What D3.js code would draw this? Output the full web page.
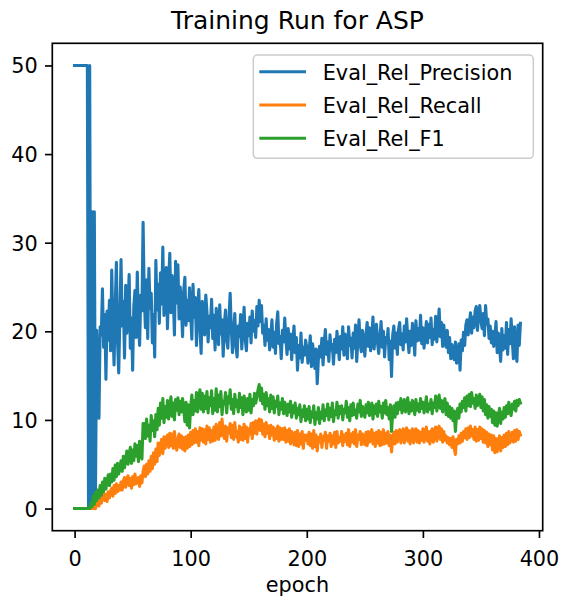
<!DOCTYPE html>
<html>
<head>
<meta charset="utf-8">
<script src="https://cdn.jsdelivr.net/npm/d3@7"></script>
<style>
  body { margin: 0; background: #fff; }
  svg { display: block; font-family: "DejaVu Sans", sans-serif; }
</style>
</head>
<body>
<svg id="chart" width="562" height="601"></svg>
<script>
var title = "Training Run for ASP";
var xLabel = "epoch";
var seriesNames = ["Eval_Rel_Precision", "Eval_Rel_Recall", "Eval_Rel_F1"];
var seriesColors = ["#1f77b4", "#ff7f0e", "#2ca02c"];
var xTicks = [0, 100, 200, 300, 400];
var yTicks = [0, 10, 20, 30, 40, 50];

// one value per epoch
var precision = [
  50,50,50,50,50,50,50,50,50,50,
  50,50,0,50,0,33.5,0,33.5,2.1,20.1,
  16.4,10.2,20.5,19.6,24.8,18.2,21.9,14.6,22.3,19.0,
  23.5,17.8,26.9,20.4,16.2,22.7,27.8,18.9,15.3,21.6,
  28.1,20.6,23.4,17.0,25.2,19.8,22.9,26.4,18.1,21.5,
  15.6,22.8,24.6,19.3,26.7,21.0,18.4,24.1,22.3,32.3,
  23.9,20.4,25.8,19.2,27.1,22.6,24.3,18.7,21.9,17.1,
  28.0,22.4,25.3,20.9,26.6,23.1,29.5,21.8,24.7,27.2,
  20.3,25.6,28.8,22.1,26.3,24.0,19.6,27.9,23.2,27.5,
  21.4,25.0,22.8,19.4,24.6,26.1,20.7,23.5,21.2,24.9,
  22.0,19.1,25.3,21.6,23.8,18.4,22.5,24.7,20.3,17.5,
  23.4,21.0,19.6,24.1,22.2,18.8,21.7,20.4,23.6,19.2,
  21.8,17.9,22.6,20.1,18.5,23.0,19.7,21.3,17.2,20.8,
  22.4,19.0,18.1,21.5,24.3,20.2,17.6,19.9,22.0,18.3,
  17.1,20.6,19.4,21.9,18.0,20.3,22.7,19.1,17.8,20.9,
  19.5,21.6,18.7,22.3,20.0,21.2,19.3,22.8,20.6,23.5,
  21.1,22.9,19.8,20.7,18.4,21.4,19.0,20.2,17.9,19.6,
  21.3,18.2,19.9,17.5,20.8,22.2,18.6,19.4,16.9,20.1,
  18.8,21.5,19.2,17.4,20.3,18.0,19.7,16.8,18.9,20.6,
  17.6,19.3,15.6,18.4,17.0,19.8,16.5,18.2,17.3,19.0,
  18.1,16.4,17.7,19.5,16.0,18.6,17.2,15.8,18.0,14.1,
  16.9,18.3,17.1,19.2,16.2,18.7,20.2,17.4,18.8,16.6,
  19.6,17.9,18.5,16.3,19.1,17.6,20.0,18.2,16.8,19.4,
  18.0,20.5,17.3,19.7,18.6,16.9,20.5,18.4,19.2,17.0,
  19.8,18.1,20.7,16.6,19.0,21.3,18.5,17.7,20.1,18.9,
  17.2,19.6,21.0,18.3,20.4,17.8,19.1,21.6,18.0,19.9,
  20.8,18.6,17.5,19.4,21.1,18.2,20.0,17.1,19.3,18.7,
  20.3,16.8,18.9,14.9,19.6,20.6,18.1,19.8,17.4,20.2,
  21.0,18.5,19.7,17.9,20.6,18.8,21.4,19.2,17.6,20.0,
  18.4,20.9,19.5,17.3,21.2,18.9,20.3,19.0,21.8,18.6,
  20.4,18.1,19.6,21.1,18.7,20.8,19.3,21.5,18.5,20.2,
  19.1,21.7,18.8,20.6,22.5,19.4,21.0,18.3,20.7,19.0,
  18.2,20.1,17.6,19.3,16.9,18.5,17.2,16.8,18.8,16.4,
  17.1,18.6,15.6,19.0,17.8,19.9,18.4,20.7,21.3,19.6,
  20.9,22.1,19.8,21.6,20.4,22.3,22.8,20.1,21.7,22.9,
  21.2,20.3,22.0,19.5,22.9,20.8,21.4,19.2,20.6,18.7,
  20.0,18.3,19.4,21.1,17.6,19.8,18.2,16.6,20.3,17.9,
  19.5,18.1,21.0,17.4,20.2,18.6,21.4,19.0,16.9,20.5,
  17.8,16.6,20.7,18.4,20.9
];

var recall = [
  0,0,0,0,0,0,0,0,0,0,
  0,0,0,0,0,0,0,0.3,0,0.5,
  0.9,0.3,1.4,0.6,1.2,1.7,0.9,1.6,0.8,1.9,
  1.2,2.0,2.3,1.4,2.6,1.7,2.8,1.9,2.6,2.1,
  3.0,2.1,3.1,3.5,2.4,3.3,3.7,2.6,3.4,2.3,
  3.6,2.7,3.9,2.8,3.1,3.5,2.5,3.7,2.9,4.2,
  4.8,3.6,5.0,3.9,5.4,4.2,5.9,4.5,6.3,5.0,
  6.7,5.3,7.4,6.0,7.2,7.8,6.2,8.1,6.8,7.9,
  8.3,6.9,8.5,7.1,8.4,6.8,8.7,7.2,6.6,7.9,
  8.4,6.9,8.2,6.7,8.0,6.5,8.1,6.8,8.3,7.0,
  8.6,7.2,8.8,7.4,9.0,7.5,8.7,7.1,9.1,7.7,
  9.0,7.5,8.9,7.3,9.3,7.8,9.1,7.5,8.8,7.6,
  9.2,7.7,9.5,8.0,7.8,9.7,8.2,10.1,8.5,7.9,
  9.3,7.6,9.1,8.5,9.6,8.0,9.4,7.8,9.7,8.1,
  8.7,7.5,9.3,7.8,9.1,7.7,9.5,7.9,9.2,7.5,
  9.0,8.4,9.6,7.9,9.7,8.5,9.9,8.4,9.8,10.1,
  8.8,10.0,8.4,9.5,8.1,9.7,8.5,9.3,7.9,9.4,
  8.3,9.2,7.7,9.0,7.9,9.3,7.6,9.1,7.8,9.0,
  7.8,9.1,7.5,8.8,7.6,9.0,7.3,8.7,8.0,7.2,
  8.6,7.1,8.8,7.0,8.4,7.3,8.7,6.8,8.3,7.7,
  8.3,7.3,8.6,7.1,8.4,6.8,8.8,7.0,8.3,6.5,
  8.0,7.5,8.4,6.9,8.1,7.7,8.6,6.8,8.2,7.6,
  8.5,7.0,8.2,7.3,8.6,6.9,8.7,7.4,8.0,7.6,
  8.7,7.1,8.3,7.6,8.5,7.2,8.9,7.0,8.4,7.5,
  8.6,7.3,8.9,7.0,8.3,7.8,8.7,7.2,8.4,7.9,
  7.2,8.6,7.1,8.7,7.5,8.1,8.9,7.3,8.5,7.0,
  8.6,7.4,8.8,7.1,8.6,7.2,8.9,7.3,8.5,7.4,
  8.7,7.1,8.3,6.4,7.9,8.6,7.3,8.8,7.5,8.6,
  8.9,7.4,8.5,9.0,7.4,8.7,9.1,7.6,8.8,7.3,
  8.6,9.0,7.4,8.7,9.0,7.5,8.8,7.4,8.6,7.7,
  9.0,7.5,8.6,9.2,7.6,8.7,7.3,8.6,9.0,7.5,
  8.7,9.2,7.6,8.9,9.3,7.8,9.0,7.5,8.7,7.7,
  8.2,7.4,8.0,7.2,7.9,6.9,8.1,6.8,6.1,7.8,
  7.3,8.2,7.4,8.5,7.6,8.7,8.0,9.0,7.8,9.1,
  8.0,9.3,8.2,8.9,7.8,9.2,7.6,8.9,7.7,9.2,
  7.9,9.0,7.5,8.8,7.4,8.6,7.0,8.4,7.2,8.3,
  6.6,8.2,6.3,7.9,6.4,7.7,8.2,6.5,8.0,6.9,
  8.3,7.0,8.5,7.2,8.7,7.4,7.9,8.6,7.5,8.8,
  7.6,8.9,7.8,8.7,8.3
];

var f1 = [
  0,0,0,0,0,0,0,0,0,0,
  0,0,0,0,0.6,0.2,1.4,0.5,1.8,0.9,
  2.1,1.2,2.6,1.5,3.0,1.9,3.4,2.2,3.1,3.8,
  2.6,3.9,3.0,4.5,3.2,4.9,3.6,5.1,3.9,4.6,
  5.4,4.2,5.9,4.6,5.5,6.5,5.0,6.1,6.9,5.1,
  6.6,5.4,7.3,5.9,7.1,5.3,7.6,6.1,5.6,9.6,
  9.6,7.9,10.1,8.2,9.4,7.6,10.5,8.8,9.9,8.1,
  10.6,8.9,11.3,9.4,11.9,10.2,12.4,9.7,11.5,10.3,
  12.2,10.1,11.6,12.6,10.4,11.9,10.0,12.3,11.1,12.5,
  10.6,12.1,10.9,12.4,11.2,9.8,12.0,9.4,11.7,9.1,
  11.5,12.8,10.6,12.2,11.0,13.1,10.9,12.6,13.4,11.2,
  13.0,10.9,12.7,11.3,13.2,10.8,12.5,11.6,13.3,10.7,
  12.4,11.1,13.5,10.9,12.8,11.5,13.2,10.6,12.1,11.8,
  13.1,10.8,12.6,11.9,13.4,11.2,12.3,10.7,12.9,11.5,
  12.2,10.9,13.0,11.4,12.5,10.6,12.7,11.8,10.9,12.4,
  11.1,12.9,10.8,12.3,11.6,13.0,11.9,12.6,13.4,14.0,
  12.2,13.6,11.8,12.9,11.2,13.1,11.6,12.4,10.9,12.8,
  11.3,12.6,10.8,12.1,11.5,12.7,10.6,11.9,11.2,12.4,
  10.7,12.0,11.4,10.5,11.8,10.9,12.1,10.3,11.6,10.8,
  11.9,10.2,11.3,10.6,11.7,9.8,11.1,10.4,11.6,9.9,
  11.2,10.1,11.5,9.7,10.9,10.3,11.6,9.5,10.8,10.1,
  11.4,9.6,10.9,10.2,11.7,9.9,11.1,10.5,11.8,10.0,
  11.3,10.4,11.9,9.8,11.0,10.6,12.0,10.2,11.5,10.7,
  11.6,10.0,11.2,10.8,12.1,10.3,11.4,9.9,11.7,10.5,
  11.9,10.6,11.1,10.2,11.8,10.9,12.2,10.4,11.5,11.0,
  10.3,11.7,10.8,12.0,10.5,11.3,11.9,10.1,11.6,10.7,
  11.8,10.4,12.1,10.9,11.5,10.2,11.9,10.8,12.2,10.6,
  11.4,10.1,11.7,8.7,10.8,11.6,10.3,11.9,10.7,12.0,
  11.2,12.4,10.8,11.7,12.3,10.9,11.6,12.5,10.7,11.9,
  11.0,12.2,11.5,10.6,12.3,11.1,11.8,10.9,12.4,11.3,
  12.0,10.8,11.6,12.6,10.9,11.8,11.2,12.3,10.7,11.9,
  11.4,12.7,11.0,12.1,12.8,11.3,12.2,10.9,11.8,12.4,
  10.6,11.9,10.4,11.5,10.2,11.3,9.9,11.0,8.7,10.6,
  11.3,10.2,11.8,10.9,12.1,11.4,12.5,11.0,12.7,11.6,
  12.9,11.5,13.1,11.9,12.4,11.3,12.8,11.6,12.2,12.9,
  11.4,12.6,11.0,12.3,10.6,11.7,10.2,11.5,10.4,11.2,
  9.7,11.0,9.4,10.8,9.3,10.4,11.3,9.6,10.9,10.1,
  11.4,10.3,11.6,10.7,12.0,11.0,10.5,11.8,11.2,12.1,
  11.0,12.2,11.6,12.3,11.9
];

var allSeries = [precision, recall, f1];

var svg = d3.select("#chart"),
    margin = {top: 43.3, right: 19.3, bottom: 70.3, left: 52.3},
    width = +svg.attr("width") - margin.left - margin.right,
    height = +svg.attr("height") - margin.top - margin.bottom;

var lastEpoch = precision.length - 1;
var xPad = lastEpoch * 0.05;

var x = d3.scaleLinear()
    .domain([-xPad, lastEpoch + xPad])
    .range([0, width]);

var y = d3.scaleLinear()
    .domain([-2.5, 52.5])
    .range([height, 0]);

var g = svg.append("g")
    .attr("transform", "translate(" + margin.left + "," + margin.top + ")");

var line = d3.line()
    .x(function(d, i) { return x(i); })
    .y(function(d) { return y(d); });

g.selectAll(".series")
  .data(allSeries)
  .enter().append("path")
    .attr("class", "series")
    .attr("fill", "none")
    .attr("stroke", function(d, i) { return seriesColors[i]; })
    .attr("stroke-width", 3.1)
    .attr("stroke-linejoin", "round")
    .attr("stroke-linecap", "square")
    .attr("d", line);

// axes
var xAxis = g.append("g")
    .attr("transform", "translate(0," + height + ")")
    .call(d3.axisBottom(x).tickValues(xTicks).tickSize(7.3).tickPadding(7.3));

var yAxis = g.append("g")
    .call(d3.axisLeft(y).tickValues(yTicks).tickSize(7.3).tickPadding(7.3));

[xAxis, yAxis].forEach(function(a) {
  a.select(".domain").remove();
  a.selectAll(".tick line").attr("stroke", "#000").attr("stroke-width", 1.67);
  a.selectAll(".tick text")
    .attr("fill", "#000")
    .style("font-size", "20.8px")
    .style("font-family", "DejaVu Sans");
});

xAxis.selectAll(".tick text").attr("dy", "0.98em");
yAxis.selectAll(".tick text").attr("dy", "0.36em");

// frame
g.append("rect")
    .attr("width", width)
    .attr("height", height)
    .attr("fill", "none")
    .attr("stroke", "#000")
    .attr("stroke-width", 1.67);

// title and label
svg.append("text")
    .attr("x", margin.left + width / 2)
    .attr("y", 29.3)
    .attr("text-anchor", "middle")
    .style("font-size", "25px")
    .text(title);

svg.append("text")
    .attr("x", margin.left + width / 2)
    .attr("y", 592)
    .attr("text-anchor", "middle")
    .style("font-size", "20.8px")
    .text(xLabel);

// legend
var legend = svg.append("g")
    .attr("transform", "translate(253.3,55)");

legend.append("rect")
    .attr("width", 280)
    .attr("height", 103.3)
    .attr("rx", 4)
    .attr("fill", "#fff")
    .attr("fill-opacity", 0.8)
    .attr("stroke", "#cccccc")
    .attr("stroke-width", 1.5);

var items = legend.selectAll(".item")
  .data(seriesNames)
  .enter().append("g")
    .attr("class", "item")
    .attr("transform", function(d, i) { return "translate(0," + (16.7 + i * 33.3) + ")"; });

items.append("line")
    .attr("x1", 6)
    .attr("x2", 52.7)
    .attr("stroke", function(d, i) { return seriesColors[i]; })
    .attr("stroke-width", 3.1);

items.append("text")
    .attr("x", 69.4)
    .attr("y", 7.8)
    .style("font-size", "20.8px")
    .text(function(d) { return d; });
</script>
</body>
</html>
